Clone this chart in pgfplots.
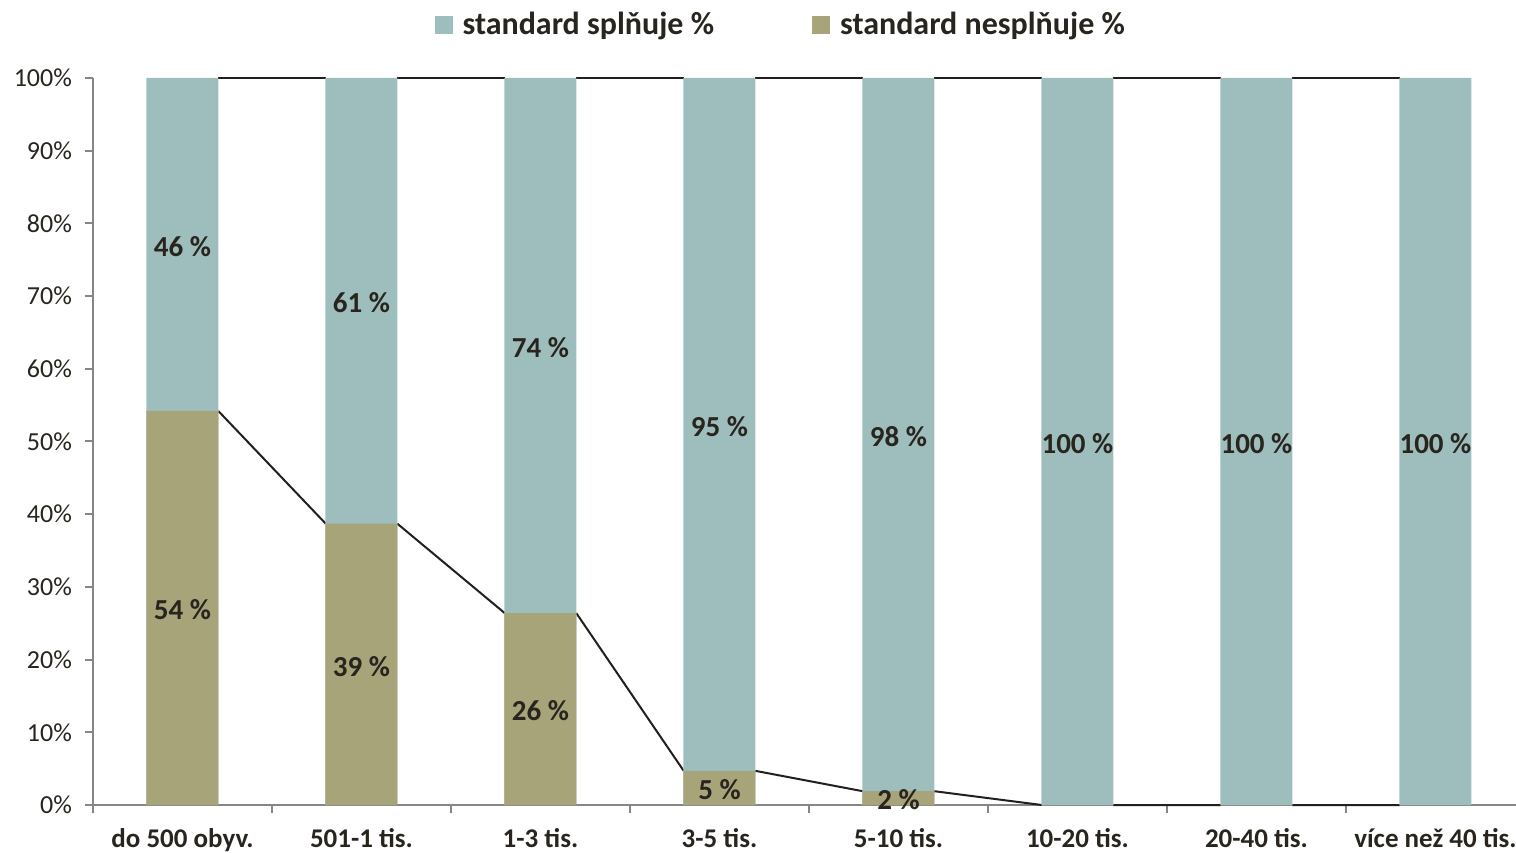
\documentclass[border=0pt]{standalone}
\usepackage{pgfplots}
\pgfplotsset{compat=1.18}
\usepackage{fontspec}
\setmainfont{Carlito}
\definecolor{teal1}{RGB}{158,190,189}
\definecolor{olive1}{RGB}{168,164,122}
\definecolor{txt}{RGB}{40,36,30}
\definecolor{axgray}{RGB}{134,134,134}
\definecolor{ser}{RGB}{35,31,28}
\begin{document}
\begin{tikzpicture}
\begin{axis}[name=ax, scale only axis, width=711.5pt, height=363.5pt,
  xmin=-0.5, xmax=7.45, ymin=0, ymax=100, clip=false,
  axis x line*=bottom, axis y line*=left,
  axis line style={axgray, line width=1pt},
  tick align=outside, major tick length=4pt, minor tick length=4pt,
  xtick={0,...,7},
  xticklabels={do 500 obyv., 501-1 tis., 1-3 tis., 3-5 tis., 5-10 tis., 10-20 tis., 20-40 tis., více než 40 tis.},
  major x tick style={draw=none},
  minor xtick={-0.5,0.5,...,6.5},
  minor x tick style={axgray, line width=1pt},
  ytick={0,10,...,100},
  yticklabels={0\%,10\%,20\%,30\%,40\%,50\%,60\%,70\%,80\%,90\%,100\%},
  major y tick style={axgray, line width=1pt},
  y tick label style={font=\fontsize{13}{15}\selectfont, text=txt, xshift=-3pt},
  x tick label style={font=\bfseries\fontsize{13.5}{15}\selectfont, text=txt, yshift=-4pt},
  legend columns=2,
  legend style={at={(0.484,1.073)}, anchor=center, draw=none, fill=none,
    font=\bfseries\fontsize{16}{18}\selectfont, text=txt,
    /tikz/every even column/.append style={column sep=47pt},
    /tikz/every odd column/.append style={column sep=3pt}},
  legend image code/.code={\fill[#1] (0pt,-4.5pt) rectangle (9pt,4.5pt);},
]
% series lines (drawn first, under bars)
\addplot[ser, line width=1pt, unbounded coords=jump, forget plot] coordinates {
  (0.2,54.2) (0.8,38.7) (1.2,nan) (1.2,38.7) (1.8,26.4) (2.2,nan) (2.2,26.4) (2.8,4.7) (3.2,nan)
  (3.2,4.7) (3.8,1.9) (4.2,nan) (4.2,1.9) (4.8,0) (5.2,nan) (5.2,0) (5.8,0) (6.2,nan) (6.2,0) (6.8,0)};
\addplot[ser, line width=1pt, unbounded coords=jump, forget plot] coordinates {
  (0.2,100) (0.8,100) (1.2,nan) (1.2,100) (1.8,100) (2.2,nan) (2.2,100) (2.8,100) (3.2,nan)
  (3.2,100) (3.8,100) (4.2,nan) (4.2,100) (4.8,100) (5.2,nan) (5.2,100) (5.8,100) (6.2,nan) (6.2,100) (6.8,100)};
% bars
\addplot[ybar, bar width=36pt, bar shift=0pt, fill=teal1, draw=none] coordinates {
  (0,100) (1,100) (2,100) (3,100) (4,100) (5,100) (6,100) (7,100)};
\addlegendentry{standard splňuje \%}
\addplot[ybar, bar width=36pt, bar shift=0pt, fill=olive1, draw=none] coordinates {
  (0,54.2) (1,38.7) (2,26.4) (3,4.7) (4,1.9) (5,0) (6,0) (7,0)};
\addlegendentry{standard nesplňuje \%}
% data labels
\addplot[only marks, mark=none, forget plot, point meta=explicit symbolic,
  nodes near coords, nodes near coords style={anchor=center, yshift=-1pt, font=\bfseries\fontsize{14.5}{16}\selectfont, text=txt}]
  table[meta=label, header=true] {
x y label
0 77.1 {46 \%}
1 69.35 {61 \%}
2 63.2 {74 \%}
3 52.35 {95 \%}
4 50.95 {98 \%}
5 50 {100 \%}
6 50 {100 \%}
7 50 {100 \%}
0 27.1 {54 \%}
1 19.35 {39 \%}
2 13.2 {26 \%}
3 2.35 {5 \%}
4 0.95 {2 \%}
};
\end{axis}
\pgfresetboundingbox
\path ([xshift=-46.5pt,yshift=-23.5pt]ax.south west) rectangle ([yshift=39pt]ax.north east);
\end{tikzpicture}
\end{document}
